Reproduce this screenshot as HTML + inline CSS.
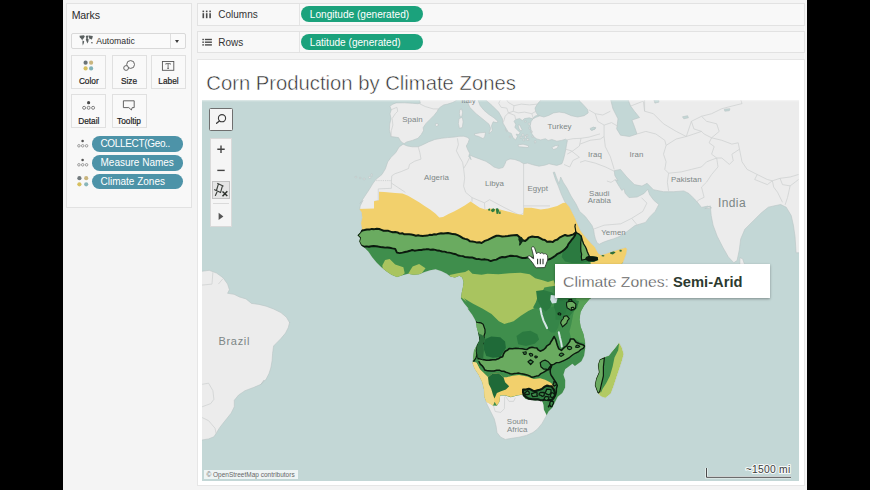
<!DOCTYPE html>
<html><head><meta charset="utf-8">
<style>
*{box-sizing:border-box;margin:0;padding:0}
html,body{width:870px;height:490px;overflow:hidden;background:#000}
body{position:relative;font-family:"Liberation Sans",sans-serif;color:#333}
#app{position:absolute;left:63px;top:0;width:744px;height:490px;background:#f4f4f4}
.panel{position:absolute;border:1px solid #e2e2e2;background:#f8f8f8}
.abs{position:absolute}
.lbl{position:absolute;font-size:10px;color:#333;white-space:nowrap}
.btn{position:absolute;border:1px solid #e0e0e0;background:#f9f9f9;width:35px;height:34px}
.btn span{position:absolute;left:-4px;right:-4px;top:20.9px;text-align:center;font-size:8.3px;line-height:10px;color:#1e1e1e;-webkit-text-stroke:0.2px #1e1e1e}
.pill{position:absolute;color:#fff;white-space:nowrap}
.gp{background:#1ba27c;border-radius:8px;height:16px;line-height:17.2px;font-size:10.1px;left:238px;width:121.5px;padding-left:8.8px}
.bp{background:#4d93a8;border-radius:7.8px;height:15.5px;line-height:15.5px;font-size:10px;left:28.7px;width:91.2px;padding-left:8.8px}
</style></head><body>
<div id="app">
<!-- marks panel : coordinates relative to #app (x-63) -->
<div class="panel" style="left:3px;top:3px;width:125.5px;height:205px"></div>
<div class="lbl" style="left:8.7px;top:9.4px;font-size:10.6px;letter-spacing:-0.15px;color:#2b2b2b">Marks</div>
<div class="abs" style="left:8.3px;top:32.7px;width:114.7px;height:16.8px;border:1px solid #d9d9d9;background:#fafafa;border-radius:2px"></div>
<div class="abs" style="left:107px;top:33.7px;width:1px;height:14.8px;background:#dedede"></div>
<div class="lbl" style="left:33.2px;top:35.6px;font-size:8.7px;color:#2e2e2e">Automatic</div>
<div class="abs" style="left:112.4px;top:39.8px;width:0;height:0;border-left:2.9px solid transparent;border-right:2.9px solid transparent;border-top:3.3px solid #3c3c3c"></div>
<svg class="abs" style="left:16px;top:35px" width="15" height="12" viewBox="0 0 15 12"><path d="M0.5 0.8 L5 0.3 L5.8 1.6 L4.6 3.4 L3.6 4 L3.8 5.2 L3 5 L2 3.4 L0.8 2.4 Z M3.6 5.6 L5.2 6.2 L4.8 8.2 L3.8 10.4 L3.4 8 Z M7 0.8 L9.6 0.4 L9.4 2.2 L8.4 3 L9.6 4.2 L9.4 6.4 L8.4 8.6 L7.6 6.6 L6.8 4.4 L7.4 3 L6.8 2 Z M10 0.6 L13.8 1 L13.4 3.2 L12.4 4.8 L11.6 3.8 L10.8 4.6 L10 2.6 Z M12.2 7 L13.8 7.2 L13.4 8.6 L12.2 8.2 Z" fill="#5a6060"/></svg>

<div class="btn" style="left:8.3px;top:54.6px"><span>Color</span></div>
<div class="btn" style="left:48.5px;top:54.6px"><span>Size</span></div>
<div class="btn" style="left:88px;top:54.6px"><span>Label</span></div>
<div class="btn" style="left:8.3px;top:94px"><span>Detail</span></div>
<div class="btn" style="left:48.5px;top:94px"><span>Tooltip</span></div>
<svg class="abs" style="left:3px;top:50px" width="126" height="160" viewBox="66 50 126 160">
<!-- color dots -->
<circle cx="85.6" cy="62.7" r="2.1" fill="#6b7478"/><circle cx="91.1" cy="62.7" r="2.1" fill="#c9b57e"/><circle cx="85.6" cy="68.4" r="2.1" fill="#d7c060"/><circle cx="91.1" cy="68.4" r="2.1" fill="#80b2b8"/>
<!-- size -->
<circle cx="130.6" cy="64.5" r="3.9" fill="none" stroke="#555" stroke-width="0.9"/><circle cx="126.1" cy="68" r="2.4" fill="#f9f9f9" stroke="#555" stroke-width="0.9"/>
<!-- label -->
<rect x="162.4" y="61.5" width="11.4" height="8.8" fill="none" stroke="#555" stroke-width="0.9"/><path d="M165.8 64.6 V63.6 H170.4 V64.6 M168.1 63.6 V68.4 M167.2 68.4 H169" stroke="#555" stroke-width="0.8" fill="none"/>
<!-- detail -->
<circle cx="88.6" cy="102.7" r="1.6" fill="#4a4a4a"/><g fill="none" stroke="#666" stroke-width="0.8"><circle cx="84.1" cy="107.8" r="1.5"/><circle cx="88.6" cy="107.8" r="1.5"/><circle cx="93.1" cy="107.8" r="1.5"/></g>
<!-- tooltip -->
<path d="M123.4 100.8 H134.2 V107.6 H132.2 L131.4 110 L128.8 107.6 H123.4 Z" fill="none" stroke="#555" stroke-width="0.9" stroke-linejoin="round"/>
<!-- pill icons -->
<circle cx="82.6" cy="141" r="1.3" fill="#555"/><g fill="none" stroke="#777" stroke-width="0.7"><circle cx="78.9" cy="145.8" r="1.25"/><circle cx="82.7" cy="145.8" r="1.25"/><circle cx="86.6" cy="145.8" r="1.25"/></g>
<circle cx="82.6" cy="160" r="1.3" fill="#555"/><g fill="none" stroke="#777" stroke-width="0.7"><circle cx="78.9" cy="164.8" r="1.25"/><circle cx="82.7" cy="164.8" r="1.25"/><circle cx="86.6" cy="164.8" r="1.25"/></g>
<circle cx="79.4" cy="178.2" r="2.1" fill="#737b7e"/><circle cx="86.2" cy="178.2" r="2.1" fill="#c9b57e"/><circle cx="79.4" cy="184.3" r="2.1" fill="#d7c060"/><circle cx="86.2" cy="184.3" r="2.1" fill="#8ab6ba"/>
</svg>

<div class="pill bp" style="top:136.2px;letter-spacing:-0.34px">COLLECT(Geo..</div>
<div class="pill bp" style="top:155.1px">Measure Names</div>
<div class="pill bp" style="top:173.9px">Climate Zones</div>

<!-- columns / rows -->
<div class="panel" style="left:133.6px;top:3px;width:608px;height:22.6px"></div>
<div class="panel" style="left:133.6px;top:30.8px;width:608px;height:22.6px"></div>
<div class="abs" style="left:235.6px;top:4px;width:1px;height:20.6px;background:#e4e4e4"></div>
<div class="abs" style="left:235.6px;top:31.8px;width:1px;height:20.6px;background:#e4e4e4"></div>
<div class="lbl" style="left:155.3px;top:8.6px">Columns</div>
<div class="lbl" style="left:155.3px;top:36.7px">Rows</div>
<svg class="abs" style="left:138px;top:8px" width="14" height="40" viewBox="201 8 14 40">
<g fill="#4a4a4a"><rect x="202.5" y="10.6" width="1.6" height="1.6"/><rect x="202.5" y="13.2" width="1.6" height="5"/><rect x="205.9" y="10.6" width="1.6" height="1.6"/><rect x="205.9" y="13.2" width="1.6" height="5"/><rect x="209.3" y="10.6" width="1.6" height="1.6"/><rect x="209.3" y="13.2" width="1.6" height="5"/>
<rect x="202.3" y="38.8" width="1.6" height="1.4"/><rect x="204.9" y="38.8" width="7" height="1.4"/><rect x="202.3" y="41.5" width="1.6" height="1.4"/><rect x="204.9" y="41.5" width="7" height="1.4"/><rect x="202.3" y="44.2" width="1.6" height="1.4"/><rect x="204.9" y="44.2" width="7" height="1.4"/></g></svg>
<div class="pill gp" style="top:6.1px">Longitude (generated)</div>
<div class="pill gp" style="top:34.2px">Latitude (generated)</div>

<!-- canvas -->
<div class="panel" style="left:134.3px;top:59px;width:607.3px;height:427px;background:#fff;border-color:#e6e6e6"></div>
<svg class="abs" style="left:139px;top:62px" width="400" height="36" viewBox="202 62 400 36"><text id="title" x="206.3" y="89.6" font-family="'Liberation Sans',sans-serif" font-size="20.6" fill="#2e2e2e" stroke="#fff" stroke-width="0.5" textLength="309.5" lengthAdjust="spacingAndGlyphs">Corn Production by Climate Zones</text></svg>
<div class="abs" id="map" style="left:139px;top:100px;width:597px;height:381px;background:#c3d7d6;overflow:hidden">
<svg style="position:absolute;left:0;top:0" width="597" height="381" viewBox="202 100 597 381">
<defs><clipPath id="caf"><path d="M556.8,165.4 L551.9,164.4 L549,163.7 L545.5,165 L539,166.2 L532.6,164.7 L527.7,163.1 L523.7,163.7 L519.7,161.3 L514.8,159.5 L510,158.9 L506.3,160.5 L504.7,164.5 L503.1,167.5 L498.7,168.6 L493.9,167 L490,163.9 L485.8,161.3 L479.4,158.9 L472.9,156.5 L469.7,154.9 L471.1,159.7 L468.7,156.5 L469.7,153.3 L467.9,150 L466.3,146 L468.1,142.8 L469.4,138.9 L467.1,137.3 L463.9,136.2 L459,136.3 L454.2,137.1 L447.7,137.6 L441.3,138.3 L434.8,139.5 L428.4,142 L423.5,144.4 L418.1,146.8 L412.3,146.8 L407.4,146 L403.1,144.2 L399.2,146.9 L395.7,152.7 L391.1,157.3 L387.7,161.9 L385.4,168.8 L381.9,174.6 L376.1,179.2 L372.7,183.8 L369.2,189.6 L364.6,196.5 L360,203.4 L363,200.3 L360.2,205.9 L359.7,209.5 L361.7,212.3 L362.3,217.8 L361.1,223.3 L362.1,228.9 L360.2,232.5 L357.5,235.3 L360.2,237.9 L359.3,241.6 L361.1,245.2 L364.8,248 L368.5,251.7 L372.2,257.2 L376.8,262.7 L381.4,267.3 L386,271 L391.5,274.7 L397,277 L402.5,275.2 L408,273.7 L413.6,274.7 L419.1,274.3 L424.6,272.1 L430.1,270.2 L435.6,269.3 L441.1,271 L446.7,273.7 L450.3,276.5 L454.9,277.6 L459.5,275.8 L462.3,277.4 L463.6,282 L462.9,287.5 L461.7,293 L461,298.6 L464.1,303.2 L468.7,308.7 L467.6,308.4 L472.2,314.8 L475.9,321.3 L476.8,327.7 L478.6,334.1 L479.5,340.6 L476.8,345.2 L474,350.7 L473.1,358 L472.7,363.6 L474.9,369.1 L478.6,374.6 L479.5,376.6 L482.3,382.1 L484.1,389.4 L484.5,396.8 L486.9,404.1 L490.6,411.5 L494.3,418.9 L496.1,426.2 L497,432.6 L500.7,437.2 L505.3,439.4 L511.7,438.3 L519.1,437.2 L526.4,435.4 L532.9,432.6 L537.5,429 L542.1,423.4 L545.7,417 L548.5,411.5 L552.2,407.8 L554.9,402.3 L557.7,396.8 L562.3,393.1 L565.1,387.6 L565.2,380.2 L563.4,374.7 L565.1,369.2 L572.4,363.7 L574.9,365.9 L581.4,361.3 L584.1,355.7 L585.2,348.4 L585.1,342.4 L583.4,334.1 L580.6,326.8 L579.5,319.4 L580.5,312.1 L584.1,305.6 L589.7,298.8 L590.2,298.8 L622.9,262.5 L624.6,258 L626.2,253.5 L626.9,249 L625.7,247.7 L621.2,249 L615.6,250.7 L610,252.4 L605.5,254.1 L601,255.2 L598.2,253.5 L596.2,250.1 L594.5,246.8 L591.5,244 L587.5,239.5 L583.6,235 L580.2,230.5 L577.4,224.3 L574.6,217.6 L571.8,212 L569.1,206.7 L564.8,201.8 L561.3,194.1 L558.4,186.3 L555.5,179.5 L553.2,172.4Z"/></clipPath><clipPath id="cmad"><path d="M619.1,342.5 L621.8,347.5 L623.7,353.9 L621.8,361.3 L619.1,369.5 L616.3,377.8 L613.6,386.1 L610.8,393.4 L605.3,398 L600.7,396.2 L597.4,392.5 L594.8,385.2 L596.1,378.7 L598.9,372.3 L597.9,364.9 L599.8,359.4 L604.4,357.2 L609,355.7 L612.6,351.1 L616.3,346.6Z"/></clipPath></defs>
<rect x="202" y="100" width="597" height="381" fill="#c3d7d6"/>
<path d="M485.8,100 L492.3,105.7 L498.7,112.1 L502.3,118.6 L503.2,123.4 L506,128.3 L508.4,132.3 L511.3,133.4 L512.9,137.6 L515.6,139.9 L517.4,136.6 L516.1,134.1 L519,134.7 L520,132.5 L517.4,129.9 L514.8,127.5 L515.8,124.4 L514,121.2 L515.8,119.4 L519.7,118.6 L522.3,120.5 L524.5,118.6 L529.4,117.8 L532.9,118.9 L531,121.8 L530.2,125.8 L531.1,129.9 L531.9,133.9 L534.2,137.1 L536.8,138.9 L540.6,139.9 L545.5,138.7 L548.1,140.5 L551.9,139.5 L556.8,141.2 L561.6,140.4 L565.6,139.2 L567.4,140.5 L566.6,144.4 L565.8,149.2 L564.8,154.1 L563.4,159.7 L561.9,163.7 L556.8,165.4 L551.9,164.4 L549,163.7 L545.5,165 L539,166.2 L532.6,164.7 L527.7,163.1 L523.7,163.7 L519.7,161.3 L514.8,159.5 L510,158.9 L506.3,160.5 L504.7,164.5 L503.1,167.5 L498.7,168.6 L493.9,167 L490,163.9 L485.8,161.3 L479.4,158.9 L472.9,156.5 L469.7,154.9 L471.1,159.7 L468.7,156.5 L469.7,153.3 L467.9,150 L466.3,146 L468.1,142.8 L469.4,138.9 L467.1,137.3 L463.9,136.2 L459,136.3 L454.2,137.1 L447.7,137.6 L441.3,138.3 L434.8,139.5 L428.4,142 L423.5,144.4 L418.1,146.8 L412.3,146.8 L407.4,146 L403.1,144.2 L399.2,146.9 L395.7,152.7 L391.1,157.3 L387.7,161.9 L385.4,168.8 L381.9,174.6 L376.1,179.2 L372.7,183.8 L369.2,189.6 L364.6,196.5 L360,203.4 L363,200.3 L360.2,205.9 L359.7,209.5 L361.7,212.3 L362.3,217.8 L361.1,223.3 L362.1,228.9 L360.2,232.5 L357.5,235.3 L360.2,237.9 L359.3,241.6 L361.1,245.2 L364.8,248 L368.5,251.7 L372.2,257.2 L376.8,262.7 L381.4,267.3 L386,271 L391.5,274.7 L397,277 L402.5,275.2 L408,273.7 L413.6,274.7 L419.1,274.3 L424.6,272.1 L430.1,270.2 L435.6,269.3 L441.1,271 L446.7,273.7 L450.3,276.5 L454.9,277.6 L459.5,275.8 L462.3,277.4 L463.6,282 L462.9,287.5 L461.7,293 L461,298.6 L464.1,303.2 L468.7,308.7 L467.6,308.4 L472.2,314.8 L475.9,321.3 L476.8,327.7 L478.6,334.1 L479.5,340.6 L476.8,345.2 L474,350.7 L473.1,358 L472.7,363.6 L474.9,369.1 L478.6,374.6 L479.5,376.6 L482.3,382.1 L484.1,389.4 L484.5,396.8 L486.9,404.1 L490.6,411.5 L494.3,418.9 L496.1,426.2 L497,432.6 L500.7,437.2 L505.3,439.4 L511.7,438.3 L519.1,437.2 L526.4,435.4 L532.9,432.6 L537.5,429 L542.1,423.4 L545.7,417 L548.5,411.5 L552.2,407.8 L554.9,402.3 L557.7,396.8 L562.3,393.1 L565.1,387.6 L565.2,380.2 L563.4,374.7 L565.1,369.2 L572.4,363.7 L574.9,365.9 L581.4,361.3 L584.1,355.7 L585.2,348.4 L585.1,342.4 L583.4,334.1 L580.6,326.8 L579.5,319.4 L580.5,312.1 L584.1,305.6 L589.7,298.8 L590.2,298.8 L622.9,262.5 L624.6,258 L626.2,253.5 L626.9,249 L625.7,247.7 L621.2,249 L615.6,250.7 L610,252.4 L605.5,254.1 L601,255.2 L598.2,253.5 L596.2,250.1 L594.5,246.8 L591.5,244 L587.5,239.5 L583.6,235 L580.2,230.5 L577.4,224.3 L574.6,217.6 L571.8,212 L569.1,206.7 L564.8,201.8 L561.3,194.1 L558.4,186.3 L555.5,179.5 L553.2,172.4 L554.5,172 L556.5,177.6 L559,183.8 L559.8,180.5 L560.7,177 L563.3,182.4 L567.1,188.3 L571,196 L575.9,203.8 L579.7,211.5 L585.3,216.5 L588.7,221 L592,225.5 L593.7,230 L594.3,234.4 L595.4,238.9 L597.1,242.9 L599.3,244.2 L603.2,242.3 L607.7,240.6 L613.3,238.9 L619,236.7 L624.6,233.3 L629.1,230 L635,225.5 L645.5,222.4 L649.7,216.9 L655.2,211.4 L658.8,204.5 L653.8,200.3 L649.7,194.8 L647.7,189.3 L644.1,193.4 L637.2,197 L629,197.6 L625.1,193.2 L624,188.8 L621.8,190.4 L619.3,186.6 L615.2,179.7 L618,180.8 L614.9,175.7 L614.2,170.7 L620.5,169.4 L626.8,177 L634.4,184.6 L642,186.1 L647.1,183.3 L653.4,189.7 L663.5,191.7 L673.7,191.7 L683.8,190.9 L688.9,193.5 L692.7,197.3 L696.5,201.1 L701.5,207.4 L707.8,206.1 L711.6,207.9 L704.8,208.6 L710.3,205.9 L711.2,215.5 L713.1,225.2 L717.2,236.2 L722.8,247.2 L728.3,256.9 L733.8,262.7 L737.1,260.5 L739.3,250 L740.7,239 L744.8,229.3 L753.1,221 L761.4,212.8 L768.3,207.2 L773.8,205.9 L780.7,204.5 L786.2,207.2 L791.2,215.5 L793.4,225.2 L795,236.2 L796.1,252.8 L800,252.8 L800,99 L485.8,99Z" fill="#ececec" stroke="#b9c4c4" stroke-width="0.6" stroke-linejoin="round"/>
<path d="M419.5,99.2 L420.3,103.3 L417.9,103.7 L412.3,103.3 L404.2,102.8 L396.1,102.9 L392.1,104.4 L390,106.6 L391.3,109.7 L390,113.7 L391,118.6 L389.7,124.2 L389.4,129.9 L390.5,133.9 L391,136.6 L395.3,137.1 L398.5,137.6 L400.2,140.4 L402.3,142.8 L404.2,143.6 L406.6,142 L412.3,140.4 L417.9,138.3 L421.1,134.7 L423.5,130.7 L423.2,127.5 L426,123.4 L430,119.4 L434,115.4 L437.3,111.3 L438.4,108.9 L440.5,107 L443.7,104.9 L447.7,104.1 L452.6,102.5 L455.8,100.8 L457.1,99.2Z" fill="#ececec" stroke="#b9c4c4" stroke-width="0.6" stroke-linejoin="round"/>
<path d="M466.5,99.2 L469.7,107.3 L476.1,113.7 L484.2,120.2 L489,124.2 L490.6,128.3 L489,133.9 L492.3,130.7 L491.5,125.8 L493.1,121.8 L496.3,122.6 L498.1,121.5 L493.9,117.8 L489,114.5 L484.2,110.5 L480.2,105.7 L477.7,99.2Z" fill="#ececec" stroke="#b9c4c4" stroke-width="0.6" stroke-linejoin="round"/>
<path d="M474.4,133.9 L480,132.8 L485.6,132.3 L484.8,136.3 L483.2,138.7 L478.4,136.3 L474.8,135.5Z" fill="#ececec" stroke="#b9c4c4" stroke-width="0.6" stroke-linejoin="round"/>
<path d="M459,118.6 L462.3,117.3 L463.1,121.8 L462.3,127.5 L459.4,128.3 L458.4,123.4Z" fill="#ececec" stroke="#b9c4c4" stroke-width="0.6" stroke-linejoin="round"/>
<path d="M459.8,109.7 L461.5,108.9 L462.6,112.1 L461.9,116.2 L460.3,117 L459.4,113.7Z" fill="#ececec" stroke="#b9c4c4" stroke-width="0.6" stroke-linejoin="round"/>
<path d="M518,144.8 L523,144.2 L528.7,145.8 L528.1,147.6 L523,147.1 L518.6,146.7Z" fill="#ececec" stroke="#b9c4c4" stroke-width="0.6" stroke-linejoin="round"/>
<path d="M551.9,147.6 L555.2,145.7 L558.7,145.2 L556.8,148.4 L553.5,149.5Z" fill="#ececec" stroke="#b9c4c4" stroke-width="0.6" stroke-linejoin="round"/>
<path d="M435.5,123.7 L437.7,123.4 L438.4,125.4 L436.5,126.3 L435.3,125.4Z" fill="#ececec" stroke="#b9c4c4" stroke-width="0.6" stroke-linejoin="round"/>
<path d="M201,271.3 L201.8,271.3 L209.2,270.3 L216.6,273.1 L223,277.7 L227.6,284.1 L229.4,289.7 L227.6,293.3 L234,294.3 L239.5,297 L246,298.9 L251.5,303.4 L258.9,304.4 L266.2,306.2 L273.6,309 L280.9,312.6 L286.4,317.2 L289.7,322.8 L289.7,322.1 L288.3,327.6 L285.5,333.1 L280.9,338.6 L276.3,343.2 L273.6,346 L272.6,353.3 L272.1,360.7 L270.8,368 L269,373.6 L266.2,379.1 L260.7,384.6 L264.3,380 L261,384.3 L253.5,387.5 L245,390.7 L238.6,395 L234.3,400.3 L234.3,406.8 L231.1,413.2 L226.8,418.6 L222.5,423.9 L219.3,428.2 L216.7,432.5 L213.9,436.8 L208.6,438.9 L202.1,440 L201,440Z" fill="#ececec" stroke="#b9c4c4" stroke-width="0.6" stroke-linejoin="round"/>
<path d="M619.1,342.5 L621.8,347.5 L623.7,353.9 L621.8,361.3 L619.1,369.5 L616.3,377.8 L613.6,386.1 L610.8,393.4 L605.3,398 L600.7,396.2 L597.4,392.5 L594.8,385.2 L596.1,378.7 L598.9,372.3 L597.9,364.9 L599.8,359.4 L604.4,357.2 L609,355.7 L612.6,351.1 L616.3,346.6Z" fill="#ececec" stroke="#b9c4c4" stroke-width="0.6" stroke-linejoin="round"/>
<path d="M739.9,257.7 L742.6,258.8 L744.3,263.8 L742.1,267.1 L739.9,263.8Z" fill="#ececec" stroke="#b9c4c4" stroke-width="0.6" stroke-linejoin="round"/>
<path d="M518,125.2 L519.5,124.8 L522,129.6 L521.1,131.2 L519.2,129Z" fill="#ececec" stroke="#b9c4c4" stroke-width="0.6" stroke-linejoin="round"/>
<path d="M521.8,134.1 L523.7,133.8 L523.9,135.7 L522,136Z" fill="#ececec" stroke="#b9c4c4" stroke-width="0.6" stroke-linejoin="round"/>
<path d="M524.3,136 L526.2,136 L526.3,138 L524.6,138.3Z" fill="#ececec" stroke="#b9c4c4" stroke-width="0.6" stroke-linejoin="round"/>
<path d="M526.8,138.5 L528.7,138.5 L528.7,140.4 L526.8,140.4Z" fill="#ececec" stroke="#b9c4c4" stroke-width="0.6" stroke-linejoin="round"/>
<path d="M523,139.1 L524.6,139.1 L524.6,140.8 L523,140.8Z" fill="#ececec" stroke="#b9c4c4" stroke-width="0.6" stroke-linejoin="round"/>
<path d="M526.2,134.7 L527.8,134.7 L527.8,136.2 L526.2,136.2Z" fill="#ececec" stroke="#b9c4c4" stroke-width="0.6" stroke-linejoin="round"/>
<path d="M520.3,136.6 L521.8,136.6 L521.8,138.3 L520.3,138.3Z" fill="#ececec" stroke="#b9c4c4" stroke-width="0.6" stroke-linejoin="round"/>
<path d="M528.1,123.1 L530.4,123.3 L530,125.1 L528.4,124.8Z" fill="#ececec" stroke="#b9c4c4" stroke-width="0.6" stroke-linejoin="round"/>
<path d="M529.1,127.1 L530.4,127.4 L530.1,129.4 L529.1,129.1Z" fill="#ececec" stroke="#b9c4c4" stroke-width="0.6" stroke-linejoin="round"/>
<path d="M530.4,131.2 L532.2,131.2 L532.2,132.4 L530.4,132.4Z" fill="#ececec" stroke="#b9c4c4" stroke-width="0.6" stroke-linejoin="round"/>
<path d="M534.2,141 L535.7,140.4 L535.9,142.6 L534.7,143.1Z" fill="#ececec" stroke="#b9c4c4" stroke-width="0.6" stroke-linejoin="round"/>
<path d="M531.9,136 L533.4,136.2 L533.2,137.5 L531.9,137.2Z" fill="#ececec" stroke="#b9c4c4" stroke-width="0.6" stroke-linejoin="round"/>
<path d="M524.6,120.8 L526.1,120.8 L526.1,122.1 L524.6,122.1Z" fill="#ececec" stroke="#b9c4c4" stroke-width="0.6" stroke-linejoin="round"/>
<path d="M505.3,129 L506.3,129.6 L506.8,131.9 L505.8,131.2Z" fill="#ececec" stroke="#b9c4c4" stroke-width="0.6" stroke-linejoin="round"/>
<path d="M509.4,136 L510.6,136.2 L510.6,137.9 L509.4,137.5Z" fill="#ececec" stroke="#b9c4c4" stroke-width="0.6" stroke-linejoin="round"/>
<path d="M355.1,176.4 L356.6,176.4 L356.6,177.7 L355.1,177.7Z" fill="#ececec" stroke="#b9c4c4" stroke-width="0.6" stroke-linejoin="round"/>
<path d="M359.5,177.4 L361,177.4 L361,178.6 L359.5,178.6Z" fill="#ececec" stroke="#b9c4c4" stroke-width="0.6" stroke-linejoin="round"/>
<path d="M363.2,178.3 L365,178.3 L365,179.7 L363.2,179.7Z" fill="#ececec" stroke="#b9c4c4" stroke-width="0.6" stroke-linejoin="round"/>
<path d="M368.7,176.6 L370.5,176.3 L370.9,178.1 L369.1,178.5Z" fill="#ececec" stroke="#b9c4c4" stroke-width="0.6" stroke-linejoin="round"/>
<path d="M370.9,174 L372,173.7 L372.7,175.9 L371.6,176.3Z" fill="#ececec" stroke="#b9c4c4" stroke-width="0.6" stroke-linejoin="round"/>
<path d="M541.5,99.2 L537.4,104.1 L535,108.1 L535.8,112.1 L538.2,115.4 L543.9,117 L548.7,115.4 L553.5,112.9 L559.2,112.1 L564.8,112.9 L571.3,115.7 L577.7,117 L584.2,115.7 L588.2,112.9 L587.7,109.7 L584.2,105.7 L580.2,101.6 L578.5,99.2Z" fill="#c3d7d6" stroke="#b9c4c4" stroke-width="0.6"/>
<path d="M610.4,98.5 L612.9,108.7 L618,118.8 L616.7,128.9 L620.5,135.2 L629.4,136.5 L637,134 L634.4,126.4 L631.9,120.1 L639.5,117.5 L634.4,111.2 L630.6,106.1 L627.6,98.5Z" fill="#c3d7d6" stroke="#b9c4c4" stroke-width="0.6"/>
<path d="M532.9,118.9 L535.8,117.3 L539.4,116 L538.4,115 L535.5,116 L533.4,117.6Z" fill="#c3d7d6" stroke="#b9c4c4" stroke-width="0.6"/>
<path d="M590.3,129.5 L592.6,127.9 L595.8,127.3 L595.2,128.9 L592.3,130.2Z" fill="#c3d7d6" stroke="#b9c4c4" stroke-width="0.6"/>
<path d="M590.1,128.4 L593.9,126.9 L595.2,128.9 L591.4,130.4Z" fill="#c3d7d6" stroke="#b9c4c4" stroke-width="0.6"/>
<path d="M653.9,99.8 L658.5,99.5 L659,102.1 L654.9,103.1Z" fill="#c3d7d6" stroke="#b9c4c4" stroke-width="0.6"/>
<path d="M724.3,109.2 L729.9,108.7 L729.4,110.7 L724.8,111.2Z" fill="#c3d7d6" stroke="#b9c4c4" stroke-width="0.6"/>
<path d="M682.5,116.8 L687.6,115.7 L688.4,117.8 L683.8,118.8Z" fill="#c3d7d6" stroke="#b9c4c4" stroke-width="0.6"/>
<path d="M418.3,147.1 L419.9,152.9 L421,159.1 L414.7,161.2 L409.5,164.3 L408.5,168.5 L401.2,171.6 L395,173.7 L391.8,175.8 L391.4,181 M391.4,180.6 L391.4,188.3 L378.3,188.9 L378.3,200.7 L374.6,201.2 L374.6,208 M391.4,183.1 L405.4,192.4 M457.4,138.3 L458.4,144.6 L456.4,150.8 L459.5,157 L462.6,162.3 L463.6,168.5 M469.9,157 L466.8,163.3 L463.6,168.5 L464.7,177.9 L463.6,186.2 L465.7,192.4 L472,197.6 L472,201.8 M472,197.6 L484.4,202.8 L489.6,199.7 L505.2,208 L519.8,215.3 M484.4,202.8 L484.9,209.1 M523.6,163.3 L523.6,213.2 L519.8,215.3 M523.6,205.9 L550,205.9 M580,144.1 L590.1,140.3 L600.3,139 L604.1,136.5 L605.3,146.6 L610.4,156.8 L614.2,169.4 M614.2,171.2 L605.3,166.9 L595.2,163.1 L585.1,160.6 L580,162.3 M637,134 L645.8,131.4 L655.9,134 L664.8,140.3 L666.1,145.4 L663.5,154.2 L666.1,161.8 L664.8,169.4 L668.6,173.2 L667.3,182.1 L668.6,190.9 M666.1,145.4 L676.2,139 L686.3,136.5 L693.9,134 L701.5,131.4 L704.1,134 L711.6,137.8 L709.1,142.8 L714.2,146.6 L711.6,154.2 L716.7,158 L706.6,161.8 L701.5,166.9 L691.4,169.4 L681.3,171.9 L668.6,173.2 M711.6,137.8 L721.8,140.3 L731.9,144.1 L738.2,142.8 L739.5,149.2 L731.9,154.2 L733.2,160.6 L729.4,164.4 L721.8,158 L716.7,158 L718,166.9 L711.6,174.5 L706.6,182.1 L701.5,187.1 L704.1,197.3 L699,199.8 L696.5,201.8 M739.5,149.2 L742,161.8 L747.1,169.4 L757.2,174.5 L767.3,179.5 L772.4,180.8 L780,178.3 L790.1,177 L798.5,174.5 M757.2,174.5 L754.7,179.5 L767.3,184.6 L772.4,180.8 L773.7,187.1 L777.5,192.2 L782.5,202.3 M780,178.3 L782.5,184.6 L790.1,185.9 L795.2,182.1 L798.5,179.5 M790.1,185.9 L787.6,197.3 L785.1,204.9 M630.6,106.1 L643.3,101.1 L644.6,111.2 L653.4,113.7 L663.5,123.8 L676.2,131.4 L686.3,136.5 M644.6,99.8 L644.6,111.2 M691.4,121.3 L701.5,116.3 L711.6,113.7 L721.8,108.7 L731.9,106.1 L742,103.6 L740.8,99.8 M686.3,136.5 L691.4,121.3 L693.9,128.9 L701.5,131.4 M701.5,116.3 L706.6,121.3 L716.7,123.8 L719.2,131.4 L711.6,137.8 M588.9,109.9 L595.2,113.7 L602.8,115 L610.4,111.2 M595.2,113.7 L597.7,121.3 L604.1,125.1 L604.1,136.5 M604.1,125.1 L611.6,122.6 L618,126.4 M593.1,229.3 L604.1,225.2 L620.7,223.8 L631.7,218.3 L638.6,226.6 M631.7,218.3 L642.8,211.4 L646.9,203.1 L641.4,197.6 M615.2,179.7 L611,182.4 L606.9,181 M566.8,139.9 L572.9,138.7 L581,138.3 L589,137.1 L597.1,134.7 L600,133.9 M581,138.3 L579.4,146 L572.9,150.8 L567.3,154.1 M565.6,149.2 L571.3,150.8 L579.4,157.3 L572.9,160.5 L569.7,167 L564,164.5 M533.4,118.6 L531.8,113.7 L535.8,111.3 M531.8,113.7 L524.5,112.1 L518.1,112.9 L513.2,111.3 L508.4,112.9 M513.2,111.3 L514,105.7 L508.4,102.5 L506.8,100 M508.4,112.9 L505.2,116.2 L503.5,121.8 M508.4,112.9 L506.8,108.1 L501.1,107.3 L498.7,103.3 L500.3,100 M514,105.7 L521.3,104.1 L529.4,104.9 L537.4,104.1 M515.6,119.4 L514.8,115.4 L508.4,112.9 M391,136.6 L391.3,130.7 L392.9,125 L392.1,118.6 L395.3,113.7 L397.7,111.3 L396.9,107.3 L391.3,109.7 M419.5,103.7 L425.2,106.5 L433.2,108.9 L438.4,108.9 M212.9,272.2 L212,284.1 L201.8,285.1 M218.4,284.1 L223,278.6 M202.1,384.3 L208.6,383.2 L212.9,390.7 L213.9,399.3 L210.7,403.6 L202.1,406.8 M202.1,417.5 L208.6,420.7 L215,428.2 L216.1,433.5 M493.3,405.1 L495.2,411.5 L500.7,412.4 L504.4,408.7 L504.7,396.8 M505.3,395.9 L509,401.4 L513.6,401.4 L515.4,397.7" fill="none" stroke="#cbcfcf" stroke-width="0.7" stroke-linejoin="round"/>
<path d="M376.2,180.6 L391.4,180.6" fill="none" stroke="#c4c8c8" stroke-width="0.7" stroke-dasharray="1.2 1"/>
<g clip-path="url(#caf)">
<path d="M351,246.7 L363.9,246.7 L371.3,246.1 L380.5,247.1 L389.7,248 L395.2,248.9 L397,252.6 L402.5,252.6 L409.9,250.7 L419.1,249.8 L428.3,249.3 L437.5,250.7 L446.7,252.6 L455.9,254.4 L465.1,257.2 L474.3,258.1 L481.6,259.6 L484.9,259.5 L490.7,261.2 L496.4,259.5 L502.2,257.2 L507.9,256.3 L513.7,256 L519.4,257.2 L525.2,257.8 L528.6,257.2 L534.4,258.6 L541.3,259.8 L548.2,259.7 L552.8,257.2 L557.4,253.7 L564,250.1 L567.3,246.8 L570.1,242.3 L573,238.4 L575.2,234.4 L575.8,232.6 L592,262 L660,262 L660,415 L561.4,415.2 L546.7,415.2 L543.9,409.7 L543.5,405.1 L541.8,399.7 L535.3,400.5 L525.5,398.9 L522.2,394.8 L517.3,395.6 L510.8,397.3 L505.1,395.6 L500.2,395.6 L499.4,401.8 L496.9,405.8 L492.9,405.4 L487.1,400.5 L479.8,399.4 L340,397 L340,247Z" fill="#3f8e4c"/>
<path d="M576.4,297.8 L592,297.8 L592,342.1 L584.2,343 L579.9,342.1 L576.4,339.5 L571.2,338.6 L569.4,331.7 L571.2,324.7 L572.9,316 L574.7,307.4Z" fill="#57a156"/>
<path d="M351,230.5 L362.1,230.5 L369.4,229.6 L376.8,229 L386,230.9 L395.2,232 L404.4,234.2 L413.6,235.1 L422.8,236 L432,235.1 L441.1,233.3 L450.3,233.3 L457.7,235.1 L465.1,238.8 L472.4,241.6 L481.6,243 L484.9,241.1 L490.7,238.2 L496.4,235.6 L502.2,236.5 L507.9,235.9 L513.7,235.1 L517.1,234.8 L519.4,237.1 L521.1,239.9 L525.2,241.1 L528.6,237.6 L532.1,236.3 L537.8,237.1 L542.4,239.4 L547,241.7 L552.8,242.2 L557.4,239.4 L562,236.5 L565.1,235 L569.6,235.6 L573.5,234.4 L575.8,232.4 L575.8,232.6 L575.2,234.4 L573,238.4 L570.1,242.3 L567.3,246.8 L564,250.1 L557.4,253.7 L552.8,257.2 L548.2,259.7 L541.3,259.8 L534.4,258.6 L528.6,257.2 L525.2,257.8 L519.4,257.2 L513.7,256 L507.9,256.3 L502.2,257.2 L496.4,259.5 L490.7,261.2 L484.9,259.5 L481.6,259.6 L474.3,258.1 L465.1,257.2 L455.9,254.4 L446.7,252.6 L437.5,250.7 L428.3,249.3 L419.1,249.8 L409.9,250.7 L402.5,252.6 L397,252.6 L395.2,248.9 L389.7,248 L380.5,247.1 L371.3,246.1 L363.9,246.7 L351,246.7Z" fill="#6aab60"/>
<path d="M351,209 L374,208.6 L374,201.3 L379,200.3 L379,191.7 L384.1,192.1 L389.7,192.4 L395.2,193 L402.5,193.5 L408,195.7 L413.6,199.1 L419.1,202.2 L424.6,205.9 L430.1,209.5 L435.6,213.8 L439.3,217.4 L443,216.9 L448.5,214.1 L454,211.4 L459.5,208.6 L465.1,205.3 L470.6,201.6 L474.3,204 L479.8,207.7 L485.3,209.5 L490.8,208.6 L500,209.5 L507.6,211.4 L516.8,214.1 L523.2,215.1 L524.1,207.7 L531.5,207.7 L540.7,209.5 L548,208.6 L557.2,205.9 L562.8,203.1 L566.4,202.4 L600,200 L650,240 L650,266 L591,266 L589.8,256.9 L588.7,255.2 L587,251.3 L585.3,246.8 L583.6,244 L582.5,240.1 L581.4,236.1 L579.1,233.9 L575.8,232.4 L575.4,228.8 L575.2,224.3 L575.4,228.8 L575.8,232.4 L575.8,232.4 L573.5,234.4 L569.6,235.6 L565.1,235 L562,236.5 L557.4,239.4 L552.8,242.2 L547,241.7 L542.4,239.4 L537.8,237.1 L532.1,236.3 L528.6,237.6 L525.2,241.1 L521.1,239.9 L519.4,237.1 L517.1,234.8 L513.7,235.1 L507.9,235.9 L502.2,236.5 L496.4,235.6 L490.7,238.2 L484.9,241.1 L481.6,243 L472.4,241.6 L465.1,238.8 L457.7,235.1 L450.3,233.3 L441.1,233.3 L432,235.1 L422.8,236 L413.6,235.1 L404.4,234.2 L395.2,232 L386,230.9 L376.8,229 L369.4,229.6 L362.1,230.5 L351,230.5Z" fill="#f2d06c"/>
<path d="M490.7,210.1 L493.2,208.3 L495.1,209.4 L494.3,211.6 L492.1,212.3Z" fill="#2b7a40"/>
<path d="M495.8,208.6 L498,208.3 L499.1,210.5 L498.4,213.8 L496.6,214.1 L496.2,211.6Z" fill="#2b7a40"/>
<path d="M488.1,209 L489.9,208.6 L490.3,210.5 L488.5,210.8Z" fill="#2b7a40"/>
<path d="M499.1,211.6 L500.6,211.6 L500.6,214.1 L499.1,214.1Z" fill="#2b7a40"/>
<path d="M575.8,232.6 L579.1,233.9 L581.4,236.1 L581.4,240.1 L580.8,245.7 L581,251.3 L581.4,256.9 L581.9,260.2 L585.3,259.1 L588.7,256.9 L592,256.3 L597.6,256.9 L598.2,260.2 L593.1,261.9 L586.4,261.9 L580.8,263.1 L571.8,263.1 L565.1,261.4 L561.7,256.9 L562.9,251.3 L566.2,246.8 L569.6,242.3 L573,238.4Z" fill="#2b7a40"/>
<path d="M581.7,236.9 L582.7,240.1 L583.8,244 L585.5,246.8 L587.2,251.3 L588.4,255.2 L585.3,258.6 L582.2,259.7 L581.6,256.9 L581.3,251.3 L581,245.7 L581.6,240.1Z" fill="#6aab60"/>
<path d="M448.5,280.2 L449.6,275 L457.7,273.2 L465.1,271.9 L468.7,270.1 L472.4,273.7 L481.6,274.7 L487.4,273.7 L498.4,274.3 L509.4,273.2 L520.5,272.8 L529.7,274.3 L535.2,278.3 L542.5,280.2 L548,282 L553.6,280.2 L555.4,285.7 L549.9,286.6 L544.4,287.5 L540.7,294.9 L537,298.6 L535.2,305.9 L536.6,299.2 L535.6,307.5 L528.3,311.1 L520.9,315.7 L513.6,321.3 L504.4,324 L498.9,321.3 L491.5,313.9 L482.3,308.4 L473.1,303.8 L463.9,298.3 L466.9,302.2 L461.4,297.6 L457.7,297.6 L457.7,280.2Z" fill="#a9c45f"/>
<path d="M385.1,259.9 L389.7,259 L395.2,264.5 L403.4,267.3 L404.7,273.2 L398.5,278.3 L389.7,277.4 L383.2,271.9 L382.3,265.5Z" fill="#a9c45f"/>
<path d="M407.1,275.6 L412.6,266.4 L419.1,264 L425.5,268.2 L421.8,273.2 L415.4,276.5Z" fill="#a9c45f"/>
<path d="M537.3,300.4 L541.3,307.4 L545.5,311.7 L550.3,307.4 L557.3,305.6 L560.8,312.6 L559.9,320.4 L558.2,327.3 L555.2,332.5 L551.2,332.5 L547.7,329.6 L545.5,322.1 L542.5,315.2 L539.6,309.1 L534.7,308.2 L533,307.4 L536.8,300.4Z" fill="#358548"/>
<path d="M536.1,290.9 L543.4,290 L552.1,292.6 L556.4,296.9 L552.1,302.2 L550.3,307.4 L545.5,311.7 L541.3,307.4 L537.3,300.4Z" fill="#2b7a40"/>
<path d="M555.5,298.3 L565.1,297.4 L572,299.5 L579,300.9 L577.2,307.8 L572,313 L566.8,319.8 L555.5,319.8Z" fill="#2f7f42"/>
<path d="M516.5,336 L522.6,331.7 L530.4,330.8 L537.3,334.3 L539.1,339.5 L534.7,343.8 L526,345.9 L518.2,344.2Z" fill="#2b7a40"/>
<path d="M478.2,358.6 L483.1,359.4 L489.6,360.2 L496.1,359.4 L502.7,356.9 L505.1,351.2 L509.2,348.8 L515.7,348 L522.2,348.8 L527.1,349.6 L532,347.1 L536.9,348 L540.2,351.2 L543.5,349.6 L546.7,346.3 L550,343.9 L552.4,339.8 L554.1,336.5 L555.7,339.8 L557.3,345.5 L559,348.8 L561.4,350.4 L564.7,347.1 L568,343.9 L570.4,339 L573.7,339 L576.1,342.2 L579.4,343.9 L582.7,344.7 L584.6,346.3 L581,349.6 L576.1,352.9 L571.2,356.1 L566.3,359.4 L561.4,361.8 L556.5,362.7 L551.6,365.1 L548.4,369.2 L543.5,372.4 L538.6,375.7 L532,377.3 L527.1,374.9 L519,373.3 L512.4,374.1 L505.9,372.4 L499.4,370 L491.2,370.8 L484.7,370 L482.2,365.9 L479,361.8Z" fill="#6aab60"/>
<path d="M471.3,320.3 L476.8,322.2 L483.2,324 L485.1,329.5 L484.1,336 L483.2,343.3 L479.5,347 L476.8,352.5 L475.9,358 L474,360.8 L469.4,360.8Z" fill="#6aab60"/>
<path d="M485.5,339 L491.2,336.5 L500.2,337.3 L505.1,341.4 L505.9,348 L502.7,352.9 L500.2,356.9 L492.9,357.8 L486.3,356.1 L483.9,349.6 L483.1,343.9Z" fill="#1f6a38"/>
<path d="M470,361 L472.4,361.8 L476.5,362.7 L479.8,369.2 L484.7,374.1 L488,377.3 L492,374.1 L498.6,373.3 L503.5,377.3 L506.7,377.3 L512.4,375.7 L519,374.9 L527.1,376.5 L533.7,379 L540.2,378.2 L545.1,379.8 L550,382.2 L554.1,385.5 L553.3,390.4 L548.4,392 L541.8,390.4 L535.3,392 L528.8,393.7 L522.2,394.5 L517.3,395.3 L510.8,396.9 L505.1,395.3 L500.2,395.3 L499.4,401.8 L496.9,405.4 L494.5,401.8 L492.9,405.4 L486.3,401.8 L476.5,383.9Z" fill="#f2d06c"/>
<path d="M470,361 L472.4,361.8 L476.5,362.7 L479.8,369.2 L484.7,374.1 L488,377.3 L488.8,383.9 L491.2,388.8 L492.9,395.3 L494.5,401.8 L492.9,405.4 L486.3,401.8 L476.5,383.9Z" fill="#f2da8a"/>
<path d="M488,377.3 L492,374.1 L498.6,373.3 L503.5,377.3 L505.1,382.2 L509.2,386.3 L505.9,389.6 L501,391.2 L496.9,392.9 L494.5,398.6 L492.9,394.5 L491.2,388.8 L488.8,383.9Z" fill="#1f6a38"/>
<path d="M523.1,389.6 L528.8,388.8 L535.3,391.2 L541.8,388.8 L546.7,385.5 L551.6,386.3 L554.1,390.4 L554.9,395.3 L551.6,400.2 L545.1,399.4 L540.2,400.2 L535.3,399.4 L528.8,398.6 L523.9,395.3Z" fill="#2f7f42"/>
<path d="M540.2,362.7 L545.1,360.2 L550,363.5 L551.6,366.7 L548.4,370 L543.5,369.2 L541,366.7Z" fill="#3f8e4c"/>
<path d="M528,361.8 L530.4,359.7 L533.3,361.8 L530.7,364.6Z" fill="#3f8e4c"/>
<path d="M554.5,301 L561.8,299.8 L566.7,302.2 L567.3,307.7 L565.5,313.3 L560.6,315.7 L556.3,313.3 L553.9,307.1Z" fill="#2b7a40"/>
<path d="M560.6,323 L563.7,316.3 L566.7,315.7 L569.2,318.8 L566.7,323 L562.4,326.7Z" fill="#6aab60"/>
<path d="M566.7,302.2 L571.6,301 L575.9,304.1 L575.3,308.4 L571,310.2 L567.3,307.7Z" fill="#6aab60"/>
<path d="M550.8,294.9 L555.1,295.5 L557.5,298.6 L556.3,302.9 L552,303.5 L550.2,299.8Z" fill="#cfe0e2"/>
<path d="M540.4,308.4 L541.6,314.5 L543.5,320.6 L545.9,325.5 L547.1,328.2" fill="none" stroke="#d6e6e6" stroke-width="2" stroke-linecap="round"/>
<path d="M558.8,332.2 L560,337.7 L561.2,342.6 L561.8,346.5" fill="none" stroke="#d6e6e6" stroke-width="2" stroke-linecap="round"/>
<path d="M351,230.5 L353.22,230.31 L355.44,230.12 L357.66,230.67 L359.88,230.03 L362.1,230.52 L364.52,230.05 L366.91,229.42 L369.4,229.6 L371.83,228.89 L374.33,229.13 L376.78,228.81 L379.19,229.03 L381.42,229.87 L383.63,230.78 L386.03,230.74 L388.34,230.87 L390.58,231.59 L392.84,232.21 L395.2,232.03 L397.53,232.44 L399.68,233.61 L402.22,233.16 L404.36,234.35 L406.72,234.19 L409.04,234.26 L411.34,234.46 L413.61,235.02 L415.87,235.67 L418.23,235.2 L420.49,235.86 L422.79,236.06 L425.09,235.64 L427.41,235.6 L429.65,234.85 L431.98,234.91 L434.21,234.33 L436.59,234.39 L438.81,233.67 L441.08,233.22 L443.4,233.39 L445.7,233.25 L448,233.08 L450.3,233.43 L452.71,234.11 L455.3,234.23 L457.69,235.13 L460.15,236.36 L462.45,237.94 L465.05,238.89 L467.62,239.52 L469.78,241.16 L472.46,241.44 L474.71,241.86 L476.96,242.58 L479.36,242.27 L481.6,243 L484.8,240.92 L487.88,239.82 L490.75,238.3 L493.58,236.97 L496.47,235.75 L499.33,235.85 L502.19,236.58 L505.06,236.3 L507.9,235.93 L510.79,235.45 L513.72,235.25 L517.12,234.99 L519.41,237.09 L521.04,239.94 L525.25,240.91 L527.06,239.5 L528.65,237.65 L532.18,236.5 L534.9,237.05 L537.81,237.01 L540.16,238.14 L542.37,239.47 L544.93,240.08 L547.01,241.68 L549.93,241.59 L552.81,242.03 L554.85,240.39 L557.46,239.5 L559.48,237.61 L561.94,236.41 L565.08,234.96 L567.3,235.7 L569.62,235.42 L573.49,234.38 L575.81,232.42" fill="none" stroke="#0b1a0e" stroke-width="2.0" stroke-linejoin="round" stroke-linecap="round"/>
<path d="M351,246.7 L353.58,247.12 L356.16,247.05 L358.74,247.1 L361.32,246.46 L363.9,246.66 L366.35,246.35 L368.87,246.72 L371.32,246.3 L373.64,245.97 L375.94,246.25 L378.23,246.56 L380.51,246.98 L382.8,247.31 L385.09,247.65 L387.43,247.52 L389.72,247.78 L392.46,248.36 L395.21,248.84 L396.97,252.61 L399.75,253.1 L402.5,252.68 L404.97,251.98 L407.47,251.46 L409.92,250.78 L412.15,249.99 L414.54,250.69 L416.83,250.33 L419.12,249.96 L421.42,250 L423.69,249.43 L425.99,249.31 L428.29,249.13 L430.58,249.8 L432.97,249.52 L435.27,249.88 L437.52,250.57 L439.88,250.81 L442.14,251.48 L444.5,251.64 L446.74,252.38 L449.07,252.67 L451.38,253.07 L453.63,253.8 L455.94,254.2 L458.08,255.49 L460.46,255.92 L462.91,256.13 L465.13,257.1 L467.42,257.26 L469.71,257.5 L472.04,257.46 L474.29,258.25 L476.62,259.13 L479.17,259.06 L481.6,259.59 L484.89,259.32 L487.92,259.93 L490.72,261.13 L493.48,260.1 L496.44,259.64 L499.16,258 L502.12,257 L505.13,257.24 L507.9,256.31 L510.78,255.76 L513.7,256.02 L516.66,256.09 L519.4,257.21 L522.25,258.02 L525.18,257.96 L528.62,257.29 L531.56,257.64 L534.41,258.54 L536.76,258.64 L538.95,259.69 L541.3,259.81 L543.6,260.07 L545.9,259.55 L548.2,259.58 L550.66,258.75 L552.9,257.39 L555.33,255.76 L557.48,253.81 L559.77,252.81 L561.93,251.53 L563.94,249.99 L565.66,248.46 L567.26,246.76 L568.26,244.28 L569.92,242.19 L571.36,240.21 L572.91,238.34 L574.29,236.5 L575.38,234.5 L575.78,232.59" fill="none" stroke="#0b1a0e" stroke-width="1.9" stroke-linejoin="round" stroke-linecap="round"/>
<path d="M575.8,232.4 L579.02,234.08 L581.25,236.26 L582.31,240.15 L583.66,243.98 L585.41,246.74 L586.43,248.94 L587.12,251.25 L588.82,255.15 L589.75,256.93" fill="none" stroke="#0b1a0e" stroke-width="1.3" stroke-linejoin="round" stroke-linecap="round"/>
<path d="M581.4,236.1 L581.22,240.1 L580.73,242.86 L580.81,245.7 L580.73,248.51 L580.87,251.3 L581.66,254.07 L581.33,256.91 L581.72,260.23 L585.34,259.22 L588.76,256.99" fill="none" stroke="#0b1a0e" stroke-width="1.2" stroke-linejoin="round" stroke-linecap="round"/>
<path d="M575.8,232.4 L575.39,228.8 L574.95,226.57 L575.33,224.29" fill="none" stroke="#0b1a0e" stroke-width="1.2" stroke-linejoin="round" stroke-linecap="round"/>
<path d="M585.9,256.9 L588.7,256 L593.1,256.3 L597.6,257.1 L598.2,259.7 L594.3,261.4 L588.7,261.4 L585.5,259.7Z" fill="#0b1a0e"/>
<path d="M478.2,358.6 L480.68,358.82 L483.08,359.53 L486.29,360.31 L489.61,360.15 L492.84,359.69 L496.12,359.6 L498.39,358.8 L500.37,357.39 L502.64,356.75 L503.55,353.9 L505.26,351.27 L507.32,350.29 L509.12,348.67 L512.49,348.76 L515.73,348.21 L518.93,348.57 L522.21,348.73 L524.64,349.25 L527.13,349.44 L529.31,347.87 L532.09,347.28 L534.42,347.71 L536.9,348.01 L538.22,349.94 L540.22,351.18 L543.57,349.75 L545.36,348.2 L546.61,346.21 L549.94,343.81 L551,341.73 L552.3,339.74 L554.13,336.52 L555.8,339.75 L556.59,342.63 L557.46,345.46 L558.84,348.88 L561.44,350.35 L563.02,348.72 L564.73,347.13 L566.66,345.82 L567.98,343.87 L569.61,341.65 L570.4,339 L573.7,339.01 L576.09,342.21 L579.5,343.71 L582.71,344.67 L584.69,346.19" fill="none" stroke="#0b1a0e" stroke-width="1.6" stroke-linejoin="round" stroke-linecap="round"/>
<path d="M584.6,346.3 L583.17,348.35 L580.91,349.5 L578.75,351.55 L576.11,352.91 L573.51,354.29 L571.19,356.08 L568.86,357.91 L566.3,359.39 L563.82,360.55 L561.34,361.69 L559.03,362.68 L556.5,362.67 L554.17,364.15 L551.64,365.19" fill="none" stroke="#0b1a0e" stroke-width="1.3" stroke-linejoin="round" stroke-linecap="round"/>
<path d="M551.6,365.1 L549.76,366.97 L548.4,369.2 L545.91,370.74 L543.44,372.3 L540.8,373.67 L538.61,375.72 L536.37,376.11 L534.2,376.76 L532,377.29 L529.64,375.91 L527.09,374.92 L524.41,374.33 L521.7,373.86 L519.04,373.11 L516.77,373.35 L514.55,373.42 L512.38,373.91 L510.17,373.79 L508.08,372.9 L505.95,372.21 L503.86,371.25 L501.43,371.17 L499.34,370.16 L496.67,370.33 L493.98,371 L491.21,370.91 L487.89,370.87 L484.71,369.93 L483.72,367.79 L482.35,365.81 L480.3,364.08 L479.07,361.74" fill="none" stroke="#0b1a0e" stroke-width="1.5" stroke-linejoin="round" stroke-linecap="round"/>
<path d="M551.6,365.1 L550.63,367.9 L550.15,370.84 L550.4,373.11 L551.12,375.31 L552.52,377.26 L554.74,380.72 L556.2,383 L557.31,385.5 L556.37,388.68 L556.35,391.98 L555.63,394.61 L554.13,396.91 L552.44,399.34 L550.86,401.84 L549.9,404.4 L548.47,406.74" fill="none" stroke="#0b1a0e" stroke-width="1.5" stroke-linejoin="round" stroke-linecap="round"/>
<path d="M478.2,333.3 L478.77,335.83 L480,338.13 L478.91,340.35 L478.19,342.56 L477.5,344.78 L477.08,347.97 L476.45,351.19 L477.05,353.4 L478.1,355.48 L477.99,357.85 L480.55,358.9 L483.04,359.6" fill="none" stroke="#0b1a0e" stroke-width="1.4" stroke-linejoin="round" stroke-linecap="round"/>
<path d="M540.2,362.7 L542.45,361.06 L545.05,360.11 L547.83,361.43 L549.93,363.6 L551.69,366.65 L550.29,368.63 L548.42,370.02 L546.02,369.15 L543.52,369.06 L540.92,366.78Z" fill="none" stroke="#0b1a0e" stroke-width="1.2" stroke-linejoin="round" stroke-linecap="round"/>
<path d="M528,361.8 L530.52,359.84 L533.28,361.83 L530.64,364.54Z" fill="none" stroke="#0b1a0e" stroke-width="1.2" stroke-linejoin="round" stroke-linecap="round"/>
<path d="M471.3,320.3 L474.21,320.79 L476.77,322.28 L478.96,322.72 L481.19,322.95 L483.15,324.19 L484.01,326.8 L484.97,329.54 L485.05,332.82 L483.95,335.98 L484.27,338.49 L483.1,340.82 L483.22,343.3 L481.48,345.28 L479.48,346.98 L477.73,349.54 L476.89,352.55 L476.75,355.32 L475.89,358 L474.1,360.86 L471.7,361.23 L469.4,360.95 L469.01,358.53 L469.28,356.28 L469.51,354.04 L469.61,351.79 L470.21,349.56 L469.8,347.29 L470.14,345.05 L469.89,342.78 L470.18,340.54 L469.93,338.28 L470.29,336.04 L470.13,333.78 L471.03,331.56 L470.93,329.3 L470.64,327.03 L471.06,324.8 L471.67,322.57Z" fill="none" stroke="#0b1a0e" stroke-width="1.2" stroke-linejoin="round" stroke-linecap="round"/>
<path d="M523.1,389.6 L526,389.55 L528.8,388.77 L530.97,389.59 L533.01,390.75 L535.32,391.16 L537.47,390.41 L539.7,389.79 L541.87,389 L544.15,387.01 L546.78,385.62 L549.11,386.12 L551.59,386.36 L552.94,388.3 L554.16,390.37 L554.98,392.77 L555.06,395.27 L553.64,398.01 L551.51,400.14 L548.32,400.07 L545.08,399.55 L542.72,400.25 L540.18,400.05 L537.82,399.4 L535.31,399.33 L532.02,399.24 L528.79,398.71 L526.22,397.14 L523.89,395.31 L523.13,392.5Z" fill="none" stroke="#0b1a0e" stroke-width="2.2" stroke-linejoin="round" stroke-linecap="round"/>
<path d="M560.6,323 L561.4,320.66 L563.13,318.75 L563.89,316.39 L566.7,315.72 L569.29,318.73 L567.51,320.64 L566.77,323.04 L564.65,324.97 L562.54,326.87Z" fill="none" stroke="#0b1a0e" stroke-width="1.1" stroke-linejoin="round" stroke-linecap="round"/>
<path d="M566.7,302.2 L569.14,301.57 L571.6,301 L573.94,302.28 L575.9,304.1 L575.52,308.43 L573.25,309.54 L571.07,310.37 L569.09,309.04 L567.19,307.87 L566.48,305.01Z" fill="none" stroke="#0b1a0e" stroke-width="1.1" stroke-linejoin="round" stroke-linecap="round"/>
<path d="M518.9,236.5 L521.7,237.1 L523.8,239.9 L522.3,242.2 L520.6,245.1 L518.9,245.7 L519.4,242.2 L518.3,239.4Z" fill="#0f2a16"/>
<path d="M362.1,230.5 L359.38,233.38 L357.67,235.48 L360.19,237.91 L359.19,241.57 L361.04,245.23 L363.86,246.78" fill="none" stroke="#0b1a0e" stroke-width="1.6" stroke-linejoin="round" stroke-linecap="round"/>
<path d="M610,251.5 L613.3,251 L615.6,252.4 L612.8,254.4 L610.2,253.7Z" fill="#2f6e3a"/>
<path d="M619.5,249.6 L621.8,249.9 L621.4,251.8 L619.6,251.5Z" fill="#2f6e3a"/>
<path d="M601.6,255 L604.4,255.2 L604.1,256.4 L601.7,256.2Z" fill="#2f6e3a"/>
<path d="M529.3,392.9 L529.2,394.1 L527.6,394.5 L525.7,394.5 L524.5,393.5 L525.4,392.4 L526.3,391.8 L527.7,390.7 L528.8,391.9Z" fill="#3f8e4c" stroke="#0b1a0e" stroke-width="1.3" stroke-linejoin="round"/>
<path d="M536.9,394.5 L537.4,396.2 L535,396.4 L532.7,396.6 L531.8,395.2 L531.5,393.7 L533.4,393.2 L535,392.4 L537.2,392.9Z" fill="#3f8e4c" stroke="#0b1a0e" stroke-width="1.3" stroke-linejoin="round"/>
<path d="M544.3,394 L544,395.6 L542.3,396.4 L541,395.3 L539.1,394.9 L539.4,393.2 L540.8,392.4 L542.1,392.5 L544.2,392.3Z" fill="#3f8e4c" stroke="#0b1a0e" stroke-width="1.3" stroke-linejoin="round"/>
<path d="M551,391.7 L550.7,393.5 L548.9,394.8 L546.9,394.2 L545.2,392.8 L546.1,390.9 L546.8,389.1 L548.8,389.4 L551,389.7Z" fill="#3f8e4c" stroke="#0b1a0e" stroke-width="1.3" stroke-linejoin="round"/>
<path d="M554.7,395.3 L553.5,396.6 L552.7,397.4 L551.7,397.3 L550.2,396.6 L550.8,394.4 L551.5,392.7 L552.7,392.9 L553.8,393.5Z" fill="#3f8e4c" stroke="#0b1a0e" stroke-width="1.3" stroke-linejoin="round"/>
<path d="M548.7,398.6 L548.2,399.5 L547.1,400.3 L545.6,400.1 L544.2,399.3 L544.5,397.9 L545.4,396.7 L547.2,396.6 L548.9,397.2Z" fill="#3f8e4c" stroke="#0b1a0e" stroke-width="1.3" stroke-linejoin="round"/>
<path d="M553.5,403.5 L552.6,404.8 L552,406.7 L550.6,406.5 L549.7,404.6 L550,402.5 L550.7,400.9 L551.9,401.4 L553.2,401.4Z" fill="#3f8e4c" stroke="#0b1a0e" stroke-width="1.3" stroke-linejoin="round"/>
<path d="M556.6,383.9 L556,385.1 L555.1,385.4 L553.9,386.2 L552.8,384.9 L553.8,383.3 L553.9,381.6 L555.2,381.9 L555.9,382.8Z" fill="#3f8e4c" stroke="#0b1a0e" stroke-width="1.3" stroke-linejoin="round"/>
<path d="M526.3,352.9 L526,354.1 L524.2,354.5 L523.6,353.3 L522.9,352.2 L524.4,352 L526,351.7Z" fill="#3f8e4c" stroke="#0b1a0e" stroke-width="1.1" stroke-linejoin="round"/>
<path d="M532.7,354.5 L532.5,355.7 L530.7,356.1 L529.7,355 L529.2,353.8 L530.9,353.4 L532,353.8Z" fill="#3f8e4c" stroke="#0b1a0e" stroke-width="1.1" stroke-linejoin="round"/>
<path d="M537.5,356.9 L536.7,357.6 L535.9,358 L535,357.5 L534.8,356.3 L535.9,355.9 L536.7,356.2Z" fill="#3f8e4c" stroke="#0b1a0e" stroke-width="1.1" stroke-linejoin="round"/>
<path d="M563.9,354.5 L562.5,355.5 L560.9,356.4 L559.2,355.3 L559.8,353.9 L561,353.1 L562.7,353.3Z" fill="#3f8e4c" stroke="#0b1a0e" stroke-width="1.1" stroke-linejoin="round"/>
<path d="M571.8,348 L570.9,349.3 L569.1,349.6 L567.7,348.7 L567.3,347 L569.1,346.3 L570.8,346.7Z" fill="#3f8e4c" stroke="#0b1a0e" stroke-width="1.1" stroke-linejoin="round"/>
<path d="M579.8,346.3 L578.7,347.2 L577.4,347.4 L575.6,347.1 L576.1,345.7 L577.3,345 L578.5,345.6Z" fill="#3f8e4c" stroke="#0b1a0e" stroke-width="1.1" stroke-linejoin="round"/>
<path d="M571.9,300.4 L571.5,301.5 L570.1,301.3 L568.8,301 L568.8,299.8 L570.1,299.5 L571.5,299.3Z" fill="none" stroke="#0b1a0e" stroke-width="1.1" stroke-linejoin="round"/>
<path d="M574.3,308.4 L573.9,309.8 L572.5,309.8 L571.3,309.2 L571.3,307.5 L572.6,307.3 L573.5,307.4Z" fill="none" stroke="#0b1a0e" stroke-width="1.1" stroke-linejoin="round"/>
<path d="M560.9,313.9 L560.5,315 L559.1,314.8 L558.2,314.4 L558.1,313.3 L559.1,312.9 L560.1,313Z" fill="none" stroke="#0b1a0e" stroke-width="1.1" stroke-linejoin="round"/>
<path d="M478.2,333.3 L479.8,338.2 L477.3,344.7 L476.5,351.2 L478.2,357.8 L483.1,359.4 L483.9,349.6 L483.1,343.9 L485.5,339 L482.2,334.9Z" fill="#2a6e3a"/>
</g>
<g clip-path="url(#cmad)">
<path d="M619.1,342.5 L621.8,347.5 L623.7,353.9 L621.8,361.3 L619.1,369.5 L616.3,377.8 L613.6,386.1 L610.8,393.4 L605.3,398 L600.7,396.2 L597.4,392.5 L594.8,385.2 L596.1,378.7 L598.9,372.3 L597.9,364.9 L599.8,359.4 L604.4,357.2 L609,355.7 L612.6,351.1 L616.3,346.6Z" fill="#b2ca63"/>
<path d="M604.4,357.6 L612.6,351.1 L619.1,342.9 L618.2,350.2 L614.5,357.6 L612.6,366.8 L609.9,376 L606.2,383.3 L602.5,388.9 L600.7,393.4 L601.6,383.3 L603.4,376 L603.4,366.8Z" fill="#3f8e4c"/>
<path d="M599.8,359.4 L604.4,357.6 L603.4,366.8 L603.4,376 L601.6,383.3 L599.8,391.6 L597.9,393.4 L594.8,385.2 L596.1,378.7 L598.9,372.3 L597.9,364.9Z" fill="#6aab60" stroke="#0b1a0e" stroke-width="1.2" stroke-linejoin="round"/>
</g>
<g font-family="'Liberation Sans',sans-serif" fill="#7c8686" text-anchor="middle" font-size="7.9" letter-spacing="0.05">
<text x="412.5" y="122.3">Spain</text>
<text x="468.5" y="102.7">Italy</text>
<text x="559.5" y="129.3">Turkey</text>
<text x="595" y="157.4">Iraq</text>
<text x="636.5" y="157.4">Iran</text>
<text x="436.5" y="179.6">Algeria</text>
<text x="494.5" y="186">Libya</text>
<text x="537.7" y="190.7">Egypt</text>
<text x="599.3" y="195.5">Saudi</text>
<text x="599.3" y="203.2">Arabia</text>
<text x="613.5" y="235">Yemen</text>
<text x="686.3" y="181.9">Pakistan</text>
<text x="517.3" y="424.4">South</text>
<text x="517.3" y="432.4">Africa</text>
<text x="732" y="206.5" font-size="12" letter-spacing="0.4">India</text>
<text x="234.3" y="344.7" font-size="11" letter-spacing="0.7">Brazil</text>
</g>

</svg>
<!-- map controls (coords relative to map: x-202, y-100) -->
<div class="abs" style="left:7.2px;top:7.6px;width:23.4px;height:23px;background:#f5f5f5;border:1px solid #6f6f6f;border-radius:1.5px"></div>
<svg class="abs" style="left:7px;top:8px" width="23" height="23" viewBox="0 0 23 23"><circle cx="13" cy="10.2" r="3.6" fill="none" stroke="#3a3a3a" stroke-width="1.1"/><path d="M10.4 12.9 L7.6 15.3" stroke="#3a3a3a" stroke-width="1.3" stroke-linecap="round"/></svg>
<div class="abs" style="left:8px;top:38px;width:22px;height:89px;background:#f5f5f5;border:1px solid #d9d9d9"></div>
<div class="abs" style="left:10.2px;top:81.3px;width:17.6px;height:18px;background:#e5e5e5;border:1px solid #c2c2c2"></div>
<div class="abs" style="left:11px;top:103px;width:16px;height:1px;background:#dadada"></div>
<svg class="abs" style="left:8px;top:38px" width="22" height="89" viewBox="0 0 22 89">
<path d="M7.3 11.3 H14.7 M11 7.6 V15" stroke="#444" stroke-width="1.4" fill="none"/>
<path d="M7.3 32.4 H14.7" stroke="#444" stroke-width="1.4" fill="none"/>
<path d="M7.7 45.4 L13.1 48 M8.3 46.3 L6.6 52 M12.3 48.3 L10.6 54.3 M4.6 51.7 L10.6 54.6 M6.9 54.3 L5.4 57.4" stroke="#3c403c" stroke-width="1.15" fill="none" stroke-linecap="round"/>
<path d="M12.5 53.5 L17.3 58 M17.3 53.3 L12.5 58.2" stroke="#2f332f" stroke-width="1.5" fill="none"/>
<path d="M8.6 74.8 L13.4 78.4 L8.6 82 Z" fill="#555"/>
</svg>
<!-- attribution -->
<div class="abs" style="left:2.3px;top:369.8px;width:93.6px;height:9.2px;background:rgba(255,255,255,0.72)"></div>
<div class="abs" id="attr" style="left:4.4px;top:370.6px;font-size:6.5px;line-height:8px;color:#666;white-space:nowrap">© OpenStreetMap contributors</div>
<!-- scale -->
<svg class="abs" style="left:500px;top:360px" width="97" height="21" viewBox="702 460 97 21">
<path d="M706.5 468 V477.3 H791" fill="none" stroke="#fff" stroke-width="2.4" opacity="0.7"/>
<path d="M706.5 468 V477.3 H791" fill="none" stroke="#4a4a4a" stroke-width="1"/>
<text x="790.5" y="473" text-anchor="end" font-family="'Liberation Sans',sans-serif" font-size="10.3" letter-spacing="0.25" fill="#444" stroke="#fff" stroke-width="2.2" stroke-linejoin="round" opacity="0.85">~1500 mi</text>
<text x="790.5" y="473" text-anchor="end" font-family="'Liberation Sans',sans-serif" font-size="10.3" letter-spacing="0.25" fill="#3c3c3c">~1500 mi</text>
</svg>
<!-- tooltip -->
<div class="abs" style="left:353px;top:163.6px;width:214.5px;height:34.6px;background:#fff;box-shadow:0 1px 2.5px rgba(0,0,0,0.35)"></div>
<svg class="abs" style="left:353px;top:163.6px" width="215" height="35" viewBox="555 263.6 215 35">
<text x="563" y="287" font-family="'Liberation Sans',sans-serif" font-size="15.5" fill="#4c4c4c" stroke="#fff" stroke-width="0.3" textLength="106" lengthAdjust="spacingAndGlyphs">Climate Zones:</text>
<text x="673" y="287" font-family="'Liberation Sans',sans-serif" font-size="15.5" font-weight="bold" fill="#2c3a2f" textLength="69.5" lengthAdjust="spacingAndGlyphs">Semi-Arid</text>
</svg>
<!-- cursor -->
<svg class="abs" style="left:323px;top:143px" width="28" height="28" viewBox="525 243 28 28">
<path d="M532.8 246.7 C533.8 246.6 534.4 247.4 534.7 248.2 L535.7 251.2 L536.6 253.8 C536.9 252.9 537.8 252.4 538.7 252.5 C539.5 252.6 540 253 540.3 253.6 C540.8 252.9 541.6 252.7 542.3 252.9 C543 253.1 543.4 253.6 543.6 254.1 C544.2 253.5 545 253.5 545.7 253.8 C546.6 254.2 547.3 254.8 547.5 255.6 L547.8 258 C547.8 259.4 547.5 260.6 547.1 261.6 L546 264.4 L545 267 L544.8 267.6 L536.4 267.8 L535 266.8 C534.2 265.6 533.7 264.6 533.2 263.7 L530.4 260.2 L528 257.5 C527.6 256.9 527.9 256 528.7 255.8 C529.3 255.7 529.9 255.9 530.4 256.3 L532.8 258.2 L533.6 258.7 L533.4 256 L532.5 251.8 L531.5 248.6 C531.3 247.7 531.8 246.9 532.8 246.7 Z" fill="#fff" stroke="#2c3a2e" stroke-width="0.9" stroke-linejoin="round"/>
<path d="M537.6 258.8 V264.3 M540.3 258.8 V264.3 M543 258.8 V264.3" stroke="#2f3a30" stroke-width="1.1" fill="none"/>
</svg>

</div>
<div class="abs" style="left:139px;top:98px;width:597px;height:4px;background:linear-gradient(#fff,rgba(255,255,255,0))"></div>
</div>
</body></html>
